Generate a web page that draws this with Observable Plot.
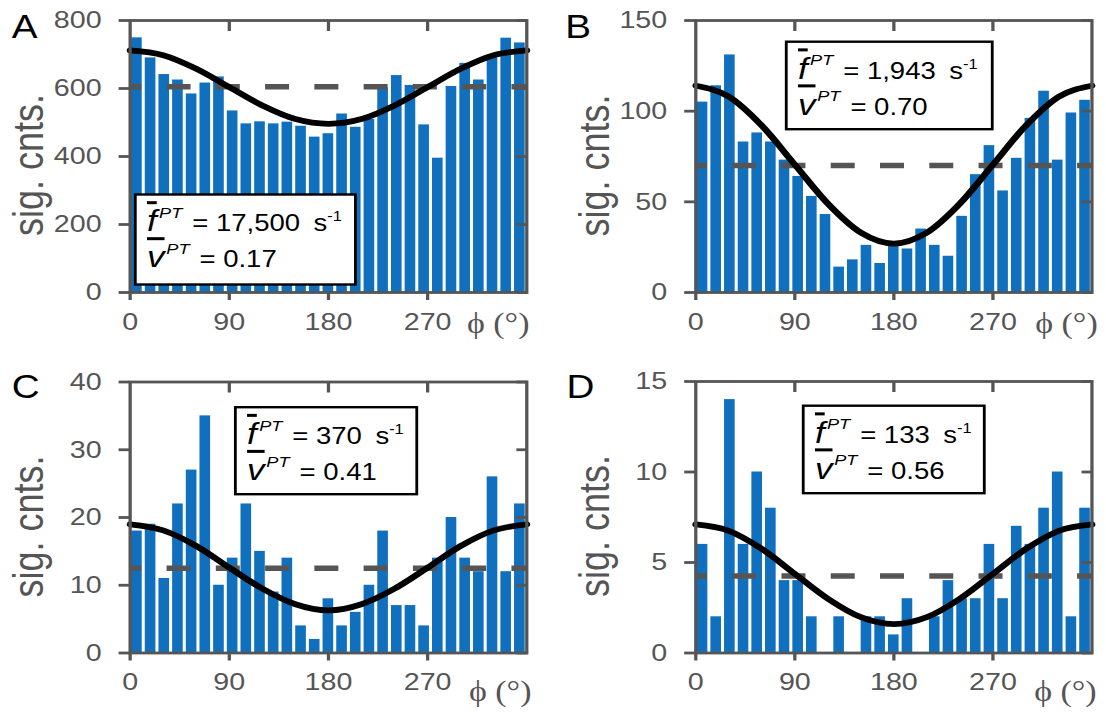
<!DOCTYPE html>
<html><head><meta charset="utf-8">
<script src="https://cdn.jsdelivr.net/npm/d3@7"></script>
<script src="https://cdn.jsdelivr.net/npm/@observablehq/plot@0.6"></script>
<style>
html,body{margin:0;padding:0;background:#fff;}
#wrap{position:relative;width:945px;height:712px;transform:scaleX(1.17037);transform-origin:0 0;overflow:visible;}
#wrap > svg{position:absolute;}
</style></head><body><div id="wrap"></div>
<script>
// ---- data ----
const binCount = 29;                 // histogram bins over 0..360 degrees
const phiTicks = [0, 90, 180, 270];
const fitPhi = [0, 30, 60, 90, 120, 150, 180, 210, 240, 270, 300, 330, 360];

const countsA = [749, 690, 641, 625, 584, 616, 634, 534, 496, 502, 496, 501, 489, 457, 467, 525, 486, 509, 602, 638, 609, 493, 395, 606, 674, 625, 690, 748, 734];
const countsB = [105, 114, 131, 83, 88, 83, 73, 64, 53, 43, 14, 18, 26, 16, 27, 24, 35, 26, 20, 42, 65, 81, 56, 74, 96, 111, 73, 99, 106];
const countsC = [18, 19, 11, 22, 27, 35, 10, 14, 22, 15, 9, 14, 4, 2, 8, 4, 6, 10, 18, 7, 7, 4, 14, 20, 14, 12, 26, 12, 22];
const countsD = [6, 2, 14, 6, 10, 8, 4, 4, 2, 0, 2, 0, 2, 2, 1, 3, 0, 2, 4, 3, 3, 6, 3, 7, 6, 8, 10, 2, 8];

const fitA = [712, 698, 658, 604, 550, 510, 496, 510, 550, 604, 658, 698, 712];
const fitB = [114, 108, 92, 70.5, 49, 33, 27, 33, 49, 70.5, 92, 108, 114];
const fitC = [19, 18.1, 15.8, 12.6, 9.5, 7.2, 6.3, 7.2, 9.5, 12.6, 15.8, 18.1, 19];
const fitD = [7.1, 6.75, 5.75, 4.37, 3.0, 1.98, 1.6, 1.98, 3.0, 4.37, 5.75, 6.75, 7.1];

const meanA = 605, meanB = 70, meanC = 12.5, meanD = 4.25;

const yTicksA = [0, 200, 400, 600, 800];
const yTicksB = [0, 50, 100, 150];
const yTicksC = [0, 10, 20, 30, 40];
const yTicksD = [0, 5, 10, 15];

const panelLetters = ["A", "B", "C", "D"];
const rateText = ["17,500", "1,943", "370", "133"];
const visText = ["0.17", "0.70", "0.41", "0.56"];
const yLabel = "sig. cnts.";
const xLabel = "\u03D5 (\u00B0)";

// ---- drawing ----
const BAR = "#1070BE", GRAY = "#555";
const wrap = document.getElementById("wrap");

function makePanel(p) {
  const bins = p.counts.map((c, i) => ({x1: i * 360 / binCount, x2: (i + 1) * 360 / binCount, count: c}));
  const fit = fitPhi.map((phi, i) => ({phi, value: p.fit[i]}));
  const svg = Plot.plot({
    width: p.w, height: 356,
    marginLeft: p.ml, marginRight: p.mr, marginTop: p.mt, marginBottom: p.mb,
    style: {background: "transparent", fontFamily: "'Liberation Sans', Arial, sans-serif", overflow: "visible", color: GRAY},
    x: {domain: [0, 360]},
    y: {domain: [0, p.yMax]},
    marks: [
      Plot.rectY(bins, {x1: "x1", x2: "x2", y: "count", fill: BAR, insetLeft: 1.3, insetRight: 1.3}),
      Plot.ruleY([p.mean], {stroke: GRAY, strokeWidth: 5.5, strokeDasharray: "20.5,21.6", strokeDashoffset: 10.5}),
      Plot.line(fit, {x: "phi", y: "value", curve: "monotone-x", stroke: "#000", strokeWidth: 5.8}),
      Plot.frame({stroke: GRAY, strokeWidth: 2.8}),
      Plot.axisY({ticks: p.yTicks, tickSize: 9.4, tickPadding: 15, fontSize: 24.5, strokeWidth: 2.8, color: GRAY, label: null}),
      Plot.axisY({anchor: "right", ticks: p.yTicks, tickSize: 9.4, dx: -9.4, tickFormat: () => "", strokeWidth: 2.8, color: GRAY, label: null}),
      Plot.axisX({ticks: phiTicks, tickSize: 8, tickPadding: 12, fontSize: 24.5, strokeWidth: 2.8, color: GRAY, label: null}),
      Plot.axisX({anchor: "top", ticks: [90, 180, 270], tickSize: 10, dy: 10, tickFormat: () => "", strokeWidth: 2.8, color: GRAY, label: null})
    ]
  });
  svg.style.left = p.left + "px";
  svg.style.top = p.top + "px";
  wrap.appendChild(svg);
}

const panels = [
  {counts: countsA, fit: fitA, mean: meanA, yMax: 800, yTicks: yTicksA, left: 0, top: 0, w: 473, ml: 110.7, mr: 23.4, mt: 20, mb: 64},
  {counts: countsB, fit: fitB, mean: meanB, yMax: 150, yTicks: yTicksB, left: 473, top: 0, w: 472, ml: 121, mr: 12.5, mt: 20, mb: 64},
  {counts: countsC, fit: fitC, mean: meanC, yMax: 40, yTicks: yTicksC, left: 0, top: 356, w: 473, ml: 110.7, mr: 23.4, mt: 25.5, mb: 59.5},
  {counts: countsD, fit: fitD, mean: meanD, yMax: 15, yTicks: yTicksD, left: 473, top: 356, w: 472, ml: 121, mr: 12.5, mt: 25, mb: 59.5}
];
panels.forEach(makePanel);

// ---- text overlay (letters, axis titles, annotation boxes) ----
const ov = d3.create("svg").attr("width", 945).attr("height", 712)
  .style("position", "absolute").style("left", "0px").style("top", "0px")
  .style("pointer-events", "none")
  .style("font-family", "'Liberation Sans', Arial, sans-serif");

const letterPos = [[10, 38.3], [482.9, 38.3], [10, 398.3], [484, 398.5]];
const ylabPos = [[36.7, 165], [520, 165.5], [36.7, 526.5], [520, 526]];
const xlabPos = [[399, 333.5], [884.5, 333.5], [400.7, 701], [883.6, 701.5]];
const boxes = [
  {x: 115.6, y: 194.5, w: 188.1, h: 90},
  {x: 671.8, y: 41.7, w: 176, h: 87.5},
  {x: 201.1, y: 407.2, w: 155, h: 87},
  {x: 686.3, y: 405.7, w: 154.7, h: 87.5}
];

panelLetters.forEach((L, i) => {
  ov.append("text").attr("x", letterPos[i][0]).attr("y", letterPos[i][1])
    .attr("font-size", 33).attr("fill", "#000").text(L);
  ov.append("text").attr("transform", `translate(${ylabPos[i][0]},${ylabPos[i][1]}) rotate(-90)`)
    .attr("text-anchor", "middle").attr("font-size", 36).attr("fill", GRAY).text(yLabel);
  ov.append("text").attr("x", xlabPos[i][0]).attr("y", xlabPos[i][1])
    .attr("font-family", "'Liberation Serif', 'Times New Roman', serif")
    .attr("font-size", 29).attr("fill", GRAY).style("white-space", "pre").text(xLabel);

  const b = boxes[i];
  ov.append("rect").attr("x", b.x).attr("y", b.y).attr("width", b.w).attr("height", b.h)
    .attr("fill", "#fff").attr("stroke", "#000").attr("stroke-width", 2.4);
  const t1 = ov.append("text").attr("x", b.x + 10).attr("y", b.y + 37).attr("font-size", 23.5)
    .attr("fill", "#000").style("white-space", "pre");
  t1.append("tspan").attr("font-style", "italic").attr("font-size", 30).style("text-decoration", "overline").text("f");
  t1.append("tspan").attr("font-style", "italic").attr("font-size", 15.5).attr("dx", 2).attr("dy", -13.5).text("PT");
  t1.append("tspan").attr("dx", 2).attr("dy", 13.5).text(" = " + rateText[i]);
  t1.append("tspan").attr("dx", 5).text(" s");
  t1.append("tspan").attr("font-size", 14).attr("dy", -10).text("-1");

  const t2 = ov.append("text").attr("x", b.x + 10).attr("y", b.y + 73).attr("font-size", 23.5)
    .attr("fill", "#000").style("white-space", "pre");
  t2.append("tspan").attr("font-style", "italic").attr("font-size", 30).style("text-decoration", "overline").text("v");
  t2.append("tspan").attr("font-style", "italic").attr("font-size", 15.5).attr("dx", 1.5).attr("dy", -13.5).text("PT");
  t2.append("tspan").attr("dx", 2).attr("dy", 13.5).text(" = " + visText[i]);
});

wrap.appendChild(ov.node());
</script>
</body></html>
